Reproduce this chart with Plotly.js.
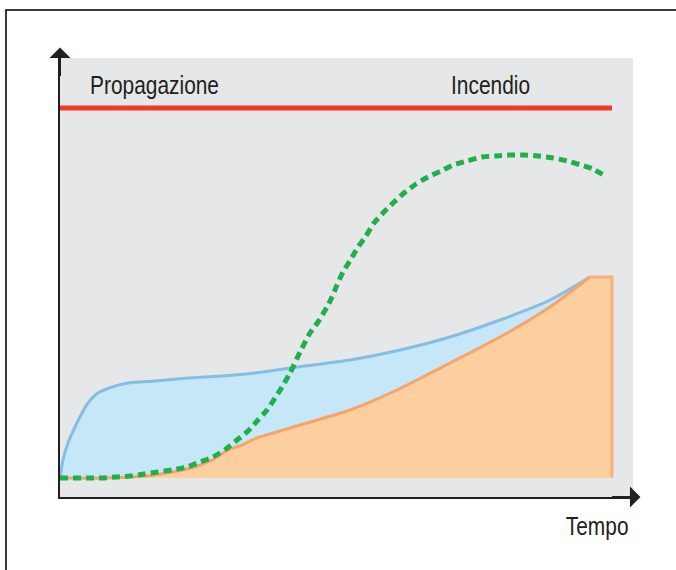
<!DOCTYPE html>
<html>
<head>
<meta charset="utf-8">
<script src="https://cdn.plot.ly/plotly-3.0.1.min.js"></script>
<style>
  html, body { margin: 0; padding: 0; background: #ffffff; overflow: hidden; }
  #frame { position: absolute; left: 5px; top: 9px; width: 700px; height: 600px;
           border-top: 2px solid #3a3a3a; border-left: 2px solid #3a3a3a; box-sizing: border-box; }
  #chart { position: absolute; left: 0; top: 0; width: 676px; height: 570px; }
</style>
</head>
<body>
<div id="frame"></div>
<div id="chart"></div>
<script>
// Time axis (arbitrary units, 0..100) and curve values (arbitrary units)
const smokeX = [0, 2.36, 4.89, 7.61, 10.14, 12.68, 15.22, 17.75, 20.29, 23.01, 25.36, 27.72, 30.07, 32.07, 34.06, 35.87, 37.50, 38.95, 40.22, 41.67, 43.48, 45.29, 46.74, 48.37, 49.28, 50.18, 51.27, 52.72, 53.99, 55.43, 56.88, 58.51, 60.33, 62.32, 64.49, 66.67, 69.02, 71.20, 73.73, 76.45, 78.99, 81.52, 84.06, 86.59, 89.31, 91.85, 94.38, 96.56, 98.73];
const smokeY = [0, 0, 0, 0, 0.27, 0.54, 1.08, 1.62, 2.16, 2.97, 4.32, 5.68, 7.84, 10.27, 12.70, 15.68, 18.38, 21.62, 24.59, 28.38, 34.05, 39.19, 42.16, 46.22, 48.92, 52.16, 55.68, 59.19, 62.43, 65.41, 68.92, 71.62, 74.32, 77.03, 79.46, 81.35, 82.97, 84.59, 85.68, 86.76, 87.03, 87.30, 87.30, 87.03, 86.49, 85.68, 84.59, 83.51, 81.62];

const blueX = [0, 0.54, 1.45, 2.72, 3.99, 5.07, 6.88, 9.42, 12.32, 17.21, 23.19, 29.35, 35.33, 41.67, 52.54, 61.59, 70.65, 79.71, 88.77, 96.01];
const blueY = [0, 4.86, 9.46, 13.78, 17.57, 20.27, 22.97, 24.59, 25.68, 26.22, 27.03, 27.57, 28.38, 29.73, 31.89, 34.59, 38.11, 42.70, 48.11, 54.32];

const orangeX = [0, 8.15, 17.21, 24.46, 27.54, 30.43, 32.97, 35.69, 41.67, 52.54, 61.05, 70.65, 79.71, 88.77, 96.01];
const orangeY = [0, 0, 0.81, 2.97, 4.86, 7.57, 8.92, 10.81, 13.51, 18.38, 23.78, 31.08, 38.11, 46.22, 54.32];
const orangeEndX = [96.01, 100, 100];
const orangeEndY = [54.32, 54.32, 0];

const fireX = [0, 100];
const fireY = [100, 100];

const labelTop = ["Propagazione", "Incendio"];
const labelTopX = [5.07, 70.47];
const labelTopY = [106.2, 106.2];
const xLabel = "Tempo";

const txtFont = {family: '"Liberation Sans", Arial, sans-serif', size: 25.5, color: '#231f20'};

const traces = [
  {x: blueX, y: blueY, type: 'scatter', mode: 'lines', fill: 'tozeroy',
   fillcolor: '#c6e7f8', line: {color: '#86bde2', width: 3, shape: 'spline', smoothing: 0.6}, hoverinfo: 'skip'},
  {x: orangeX, y: orangeY, type: 'scatter', mode: 'lines', fill: 'tozeroy',
   fillcolor: '#fdcf9e', line: {color: '#f6a36c', width: 3, shape: 'spline', smoothing: 0.6}, hoverinfo: 'skip'},
  {x: orangeEndX, y: orangeEndY, type: 'scatter', mode: 'lines', fill: 'tozeroy',
   fillcolor: '#fdcf9e', line: {color: '#f8b07e', width: 3}, hoverinfo: 'skip'},
  {x: smokeX, y: smokeY, type: 'scatter', mode: 'lines',
   line: {color: '#1fb04c', width: 5, dash: '8px,5px', shape: 'spline', smoothing: 0.6}, hoverinfo: 'skip'},
  {x: fireX, y: fireY, type: 'scatter', mode: 'lines',
   line: {color: '#ee3b24', width: 5}, hoverinfo: 'skip'}
];

const annotations = labelTop.map((t, i) => ({
  text: t, x: labelTopX[i], y: labelTopY[i], xref: 'x', yref: 'y',
  xanchor: 'left', yanchor: 'middle', showarrow: false, font: txtFont
}));
annotations.push({text: xLabel, x: 0.997, y: -0.066, xref: 'paper', yref: 'paper',
  xanchor: 'right', yanchor: 'middle', showarrow: false, font: txtFont});
// axis arrowheads
annotations.push({x: 0, y: 1.024, xref: 'paper', yref: 'paper', ax: 0, ay: 30, text: '',
  showarrow: true, arrowhead: 1, arrowsize: 1.75, arrowwidth: 2, arrowcolor: '#231f20', standoff: 0});
annotations.push({x: 1.013, y: 0, xref: 'paper', yref: 'paper', ax: -30, ay: 0, text: '',
  showarrow: true, arrowhead: 1, arrowsize: 1.75, arrowwidth: 2, arrowcolor: '#231f20', standoff: 0});

const layout = {
  width: 676, height: 570,
  margin: {l: 60, r: 43, t: 58, b: 73},
  paper_bgcolor: 'rgba(0,0,0,0)',
  plot_bgcolor: '#e6e7e8',
  showlegend: false,
  xaxis: {range: [0, 103.8], showgrid: false, zeroline: false, showticklabels: false, ticks: '',
          showline: true, linecolor: '#231f20', linewidth: 2, fixedrange: true},
  yaxis: {range: [-5.135, 113.51], showgrid: false, zeroline: false, showticklabels: false, ticks: '',
          showline: true, linecolor: '#231f20', linewidth: 2, fixedrange: true},
  annotations: annotations
};

Plotly.newPlot('chart', traces, layout, {displayModeBar: false, staticPlot: true}).then(() => {
  // condense the labels horizontally (the original uses a condensed typeface)
  const s = 0.82;
  document.querySelectorAll('#chart .annotation-text').forEach(t => {
    const txt = t.textContent;
    if (!txt) return;
    const bb = t.getBBox();
    const ax = (txt === xLabel) ? bb.x + bb.width : bb.x;
    const prev = t.getAttribute('transform') || '';
    t.setAttribute('transform', (prev + ' translate(' + ax + ',0) scale(' + s + ',1) translate(' + (-ax) + ',0)').trim());
  });
});
</script>
</body>
</html>
